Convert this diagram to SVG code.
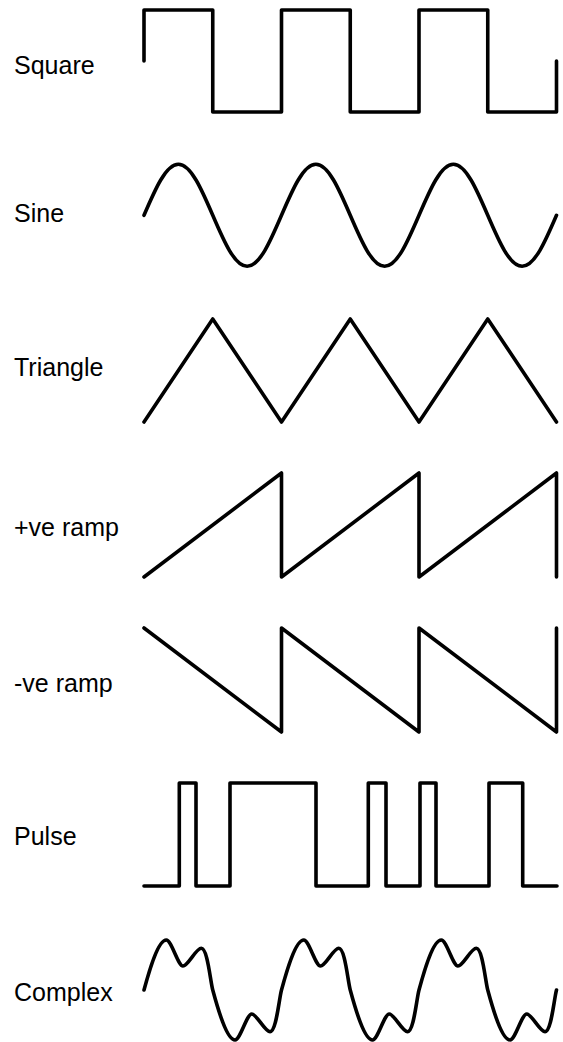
<svg xmlns="http://www.w3.org/2000/svg" width="563" height="1042" viewBox="0 0 563 1042">
<style>
.w{fill:none;stroke:#000;stroke-width:3.6;stroke-linejoin:round;stroke-linecap:round}
.l{font-family:"Liberation Sans",Arial,sans-serif;font-size:25px;fill:#000}
</style>
<rect width="563" height="1042" fill="#fff"/>
<g id="square">
<text class="l" x="14" y="73.5">Square</text>
<path class="w" d="M144,61 V10 H212.75 V112 H281.5 V10 H350.25 V112 H419 V10 H487.75 V112 H556.5 V61"/>
</g>
<g id="sine">
<text class="l" x="14" y="221.5">Sine</text>
<path class="w" d="M144,215.3
c11.21,-26.13 21.93,-51 34.375,-51 c12.445,0 23.165,24.87 34.375,51 c11.21,26.13 21.93,51 34.375,51 c12.445,0 23.165,-24.87 34.375,-51
c11.21,-26.13 21.93,-51 34.375,-51 c12.445,0 23.165,24.87 34.375,51 c11.21,26.13 21.93,51 34.375,51 c12.445,0 23.165,-24.87 34.375,-51
c11.21,-26.13 21.93,-51 34.375,-51 c12.445,0 23.165,24.87 34.375,51 c11.21,26.13 21.93,51 34.375,51 c12.445,0 23.165,-24.87 34.375,-51"/>
</g>
<g id="triangle">
<text class="l" x="14" y="375.5">Triangle</text>
<path class="w" d="M144,422 L212.75,319 L281.5,422 L350.25,319 L419,422 L487.75,319 L556.5,422"/>
</g>
<g id="pos-ramp">
<text class="l" x="14" y="536">+ve ramp</text>
<path class="w" d="M144,577 L281.5,473 V577 L419,473 V577 L556.5,473 V577"/>
</g>
<g id="neg-ramp">
<text class="l" x="14" y="691.5">-ve ramp</text>
<path class="w" d="M144,628 L281.5,732 V628 L419,732 V628 L556.5,732 V628"/>
</g>
<g id="pulse">
<text class="l" x="14" y="845">Pulse</text>
<path class="w" d="M144,886 H179.3 V783 H196 V886 H230 V783 H316 V886 H368.3 V783 H386 V886 H420 V783 H436 V886 H489 V783 H522.7 V886 H557"/>
</g>
<g id="complex">
<text class="l" x="14" y="1000.5">Complex</text>
<path class="w" d="M144,990
c5,-18.5 14,-50 22.3,-50 c5.2,0 11.7,26 16.7,26 c5,0 13,-17.7 18.3,-17.7 c6.2,0 8.95,32.45 11.45,41.7
c5,18.5 14,50 22.3,50 c5.2,0 11.7,-26 16.7,-26 c5,0 13,17.7 18.3,17.7 c6.2,0 8.95,-32.45 11.45,-41.7
c5,-18.5 14,-50 22.3,-50 c5.2,0 11.7,26 16.7,26 c5,0 13,-17.7 18.3,-17.7 c6.2,0 8.95,32.45 11.45,41.7
c5,18.5 14,50 22.3,50 c5.2,0 11.7,-26 16.7,-26 c5,0 13,17.7 18.3,17.7 c6.2,0 8.95,-32.45 11.45,-41.7
c5,-18.5 14,-50 22.3,-50 c5.2,0 11.7,26 16.7,26 c5,0 13,-17.7 18.3,-17.7 c6.2,0 8.95,32.45 11.45,41.7
c5,18.5 14,50 22.3,50 c5.2,0 11.7,-26 16.7,-26 c5,0 13,17.7 18.3,17.7 c6.2,0 8.95,-32.45 11.45,-41.7"/>
</g>
</svg>
